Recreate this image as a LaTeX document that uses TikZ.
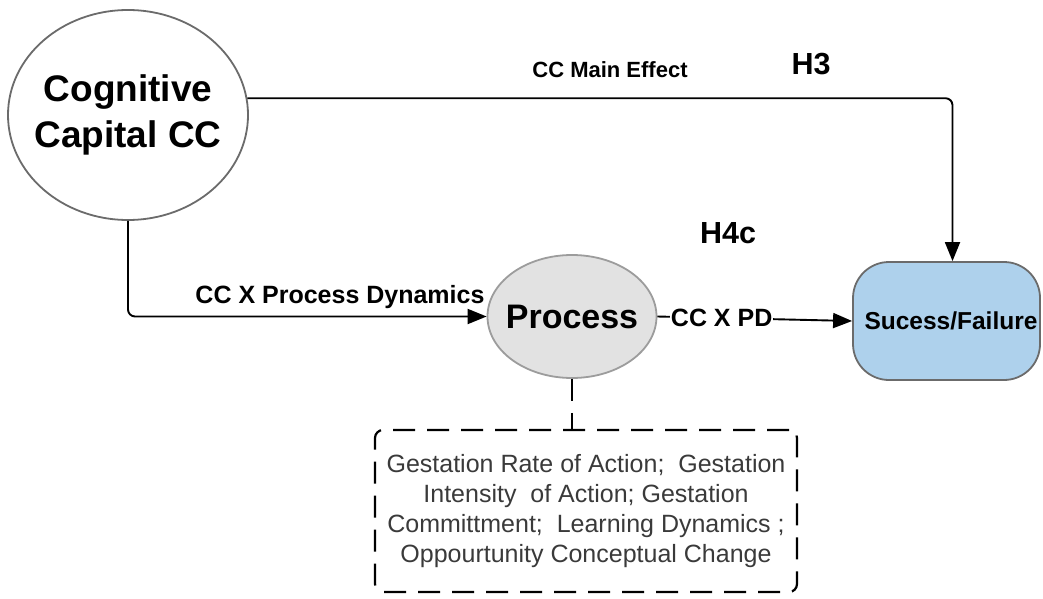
\documentclass[tikz,border=0pt]{standalone}
\usepackage{fontspec}
\setmainfont{Liberation Sans}
\usetikzlibrary{arrows.meta,calc,shapes.geometric}
\definecolor{ringgray}{HTML}{6B6B6B}
\definecolor{procfill}{HTML}{E2E2E2}
\definecolor{procline}{HTML}{9C9C9C}
\definecolor{outfill}{HTML}{AED1EC}
\definecolor{notetext}{HTML}{3A3A3A}
\tikzset{
  conn/.style={line width=1.9pt, -{Triangle[length=19pt,width=15pt]}},
  lbl/.style={font=\bfseries\fontsize{22}{26}\selectfont, anchor=base, inner sep=0pt},
  hyp/.style={font=\bfseries\fontsize{30.5}{34}\selectfont, anchor=base, inner sep=0pt},
}
\begin{document}
\begin{tikzpicture}[x=1pt,y=-1pt]
  \useasboundingbox (0,0) rectangle (1043,599);

  % constructs (outline first, caption laid over the centre)
  \node[ellipse, draw=ringgray, line width=1.8pt, fill=white,
        minimum width=240, minimum height=210, inner sep=0pt,
        label={[align=center, font=\bfseries\fontsize{37}{46}\selectfont]center:Cognitive\\Capital CC}]
        (cc) at (128,115) {};
  \node[ellipse, draw=procline, line width=1.8pt, fill=procfill,
        minimum width=169, minimum height=123, inner sep=0pt,
        label={[font=\bfseries\fontsize{34}{38}\selectfont]center:Process}]
        (proc) at (572,316.5) {};
  \node[draw=ringgray, line width=1.8pt, fill=outfill, rounded corners=36pt,
        minimum width=187, minimum height=118, inner sep=0pt,
        font=\bfseries\fontsize{24.5}{28}\selectfont]
        (succ) at (946.5,321) {\hspace*{9pt}Sucess/Failure};

  % process dimensions
  \node[draw, dashed, dash pattern=on 22pt off 12pt, line width=2.2pt, rounded corners=8pt,
        minimum width=422, minimum height=162, inner sep=0pt, align=center,
        text=notetext, font=\fontsize{25}{30}\selectfont]
        (dims) at (586,511) {Gestation Rate of Action;\ \ Gestation\\
        Intensity\ \ of Action; Gestation\\
        Committment;\ \ Learning Dynamics ;\\
        Oppourtunity Conceptual Change};

  % paths
  \draw[conn, rounded corners=7pt] (cc.8.7) -| ([xshift=6pt]succ.north);
  \draw[conn, rounded corners=7pt] (cc.south) |- (proc.west);
  \draw[conn] (proc.east) -- node[pos=0.33, fill=white, inner sep=1pt,
        font=\bfseries\fontsize{25}{28}\selectfont]{CC X PD} (succ.west);
  \draw[dashed, dash pattern=on 22pt off 12pt, line width=2.2pt]
        (proc.south) -- (proc.south |- dims.north);

  % labels
  \node[lbl] (lmain) at (610,78) {CC Main Effect};
  \node[lbl, font=\bfseries\fontsize{25}{29}\selectfont] (lproc) at (340,303) {CC X Process Dynamics};
  \node[hyp] (h3) at (811,75) {H3};
  \node[hyp] (h4c) at (728,243) {H4c};
\end{tikzpicture}
\end{document}
